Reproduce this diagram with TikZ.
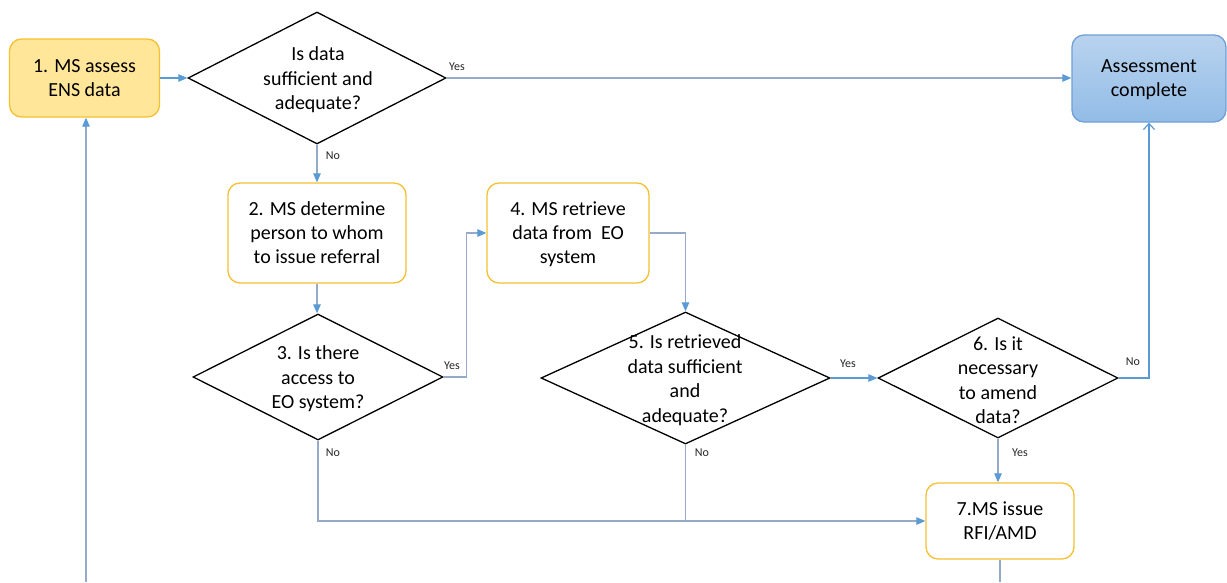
\documentclass[tikz,border=0pt]{standalone}
\usepackage{fontspec}
\setmainfont{Carlito}
\usetikzlibrary{shapes.geometric,arrows.meta}
\definecolor{gold}{HTML}{F6C033}
\definecolor{goldfill}{HTML}{FFE699}
\definecolor{lnblue}{HTML}{5B9BD5}
\definecolor{lngrey}{HTML}{95AAC8}
\definecolor{acborder}{HTML}{6FA0D6}
\definecolor{actop}{HTML}{B9D3EF}
\definecolor{acbot}{HTML}{92BCE6}
\tikzset{
 proc/.style={draw=gold, line width=1.3pt, rounded corners=12pt, fill=white, align=center, font=\fontsize{20}{24}\selectfont, inner sep=0pt, text depth=-2pt},
 dec/.style={diamond, draw=black, line width=1.3pt, inner sep=0pt},
 dectext/.style={align=center, font=\fontsize{20}{24.5}\selectfont, inner sep=0pt},
 lbl/.style={font=\fontsize{12}{14}\selectfont, inner sep=0pt, text=black!85},
 conn/.style={draw=lnblue, line width=1.2pt},
 conngrey/.style={draw=lngrey, line width=1.2pt},
 tip/.style={-{Triangle[length=9pt,width=7.5pt,color=lnblue]}},
 opentip/.style={-{Straight Barb[length=6pt,width=11pt,color=lnblue]}},
}
\begin{document}
\begin{tikzpicture}[x=1pt,y=-1pt]
\useasboundingbox (0,0) rectangle (1227,582);

% process boxes
\node[proc, fill=goldfill, minimum width=150pt, minimum height=78pt] (b1) at (84.5,78) {1. MS assess\\ENS data};
\node[proc, minimum width=178pt, minimum height=100pt] (b2) at (317,233) {2. MS determine\\person to whom\\to issue referral};
\node[proc, minimum width=162pt, minimum height=100pt] (b4) at (568,233) {4. MS retrieve\\data from~ EO\\system};
\node[proc, minimum width=148pt, minimum height=76pt] (b7) at (1000,521) {7.MS issue\\RFI/AMD};
\node[proc, draw=acborder, top color=actop, bottom color=acbot, minimum width=154pt, minimum height=87pt] (ac) at (1149,78.5) {Assessment\\complete};

% decisions
\node[dec, minimum width=258pt, minimum height=132pt] (d1) at (317,78) {};
\node[dectext] (t1) at (318,80) {Is data\\sufficient and\\adequate?};
\node[dec, minimum width=250pt, minimum height=126pt] (d3) at (318,377) {};
\node[dectext] (t3) at (318,379) {3. Is there\\access to\\EO system?};
\node[dec, minimum width=289pt, minimum height=132pt] (d5) at (685.5,378) {};
\node[dectext] (t5) at (685,380) {5. Is retrieved\\data sufficient\\and\\adequate?};
\node[dec, minimum width=240pt, minimum height=120pt] (d6) at (998,378) {};
\node[dectext] (t6) at (998,380) {6. Is it\\necessary\\to amend\\data?};

% connectors
\draw[conn,tip] (b1.east) -- (d1.west);
\draw[conngrey,tip] (d1.east) -- (d1.east -| ac.west);
\draw[conngrey,tip] (d1.south) -- (d1.south |- b2.north);
\draw[conngrey,tip] (b2.south) -- (b2.south |- d3.north);
\draw[conngrey,tip] (d3.east) -- ++(23,0) |- (b4.west);
\draw[conngrey,tip] (b4.east) -| (d5.north);
\draw[conn,tip] (d5.east) -- (d6.west);
\draw[conn,opentip] (d6.east) -| (ac.south);
\draw[conngrey,tip] (d6.south) -- (d6.south |- b7.north);
\draw[conngrey,tip] (d3.south) |- (b7.west);
\draw[conngrey] (d5.south) -- (d5.south |- b7.west);
\coordinate (bot7) at (1000,582);
\draw[conngrey] (b7.south) -- (bot7);
\coordinate (bot1) at (86,582);
\draw[conngrey,tip] (bot1) -- (bot1 |- b1.south);

% labels
\node[lbl] (l1y) at (457,67) {Yes};
\node[lbl] (l1n) at (333,156) {No};
\node[lbl] (l3y) at (452,366) {Yes};
\node[lbl] (l3n) at (333,453) {No};
\node[lbl] (l5y) at (848,364) {Yes};
\node[lbl] (l5n) at (702,453) {No};
\node[lbl] (l6n) at (1133,362) {No};
\node[lbl] (l6y) at (1020,453) {Yes};
\end{tikzpicture}
\end{document}
